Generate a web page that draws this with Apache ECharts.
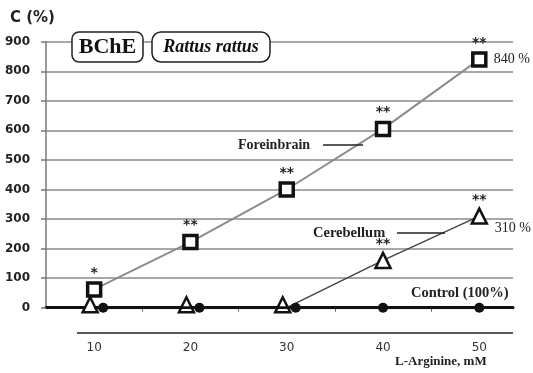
<!DOCTYPE html>
<html><head><meta charset="utf-8">
<script src="https://cdn.jsdelivr.net/npm/echarts@6/dist/echarts.min.js"></script>
<style>html,body{margin:0;padding:0;background:#fff}#c{width:533px;height:373px}</style>
</head><body><div id="c"></div>
<script>
const concentrations = [10, 20, 30, 40, 50];
const forebrain = [62, 222, 400, 605, 840];
const cerebellum = [0, 0, 0, 160, 310];
const control = [0, 0, 0, 0, 0];
const forebrainSig = ['*', '**', '**', '**', '**'];
const cerebellumSig = ['', '', '', '**', '**'];
const yTicks = [0, 100, 200, 300, 400, 500, 600, 700, 800, 900];
const xBoundaries = [15, 25, 35, 45];

const serif = '"Liberation Serif","DejaVu Serif",serif';
const sans = '"DejaVu Sans",Verdana,sans-serif';

const chart = echarts.init(document.getElementById('c'), null, {renderer: 'canvas'});

function pts(vals, sig, offsetFn) {
  return vals.map((v, i) => {
    const d = {value: [concentrations[i], v]};
    if (sig) d.label = {show: !!sig[i], formatter: sig[i]};
    if (offsetFn) { const o = offsetFn(i); if (o) d.symbolOffset = o; }
    return d;
  });
}

const last = concentrations.length - 1;
const pctLabel = (off) => ({
  symbol: 'circle', symbolSize: 1, itemStyle: {color: 'rgba(0,0,0,0)'},
  label: {show: true, position: 'right', offset: off, formatter: p => p.value + ' %',
    color: '#222', fontFamily: serif, fontSize: 14}
});

chart.setOption({
  animation: false,
  grid: {left: 46, right: 20, top: 41.7, bottom: 65.3},
  xAxis: {
    type: 'value', min: 5, max: 53.5,
    axisLine: {show: true, onZero: true, lineStyle: {color: '#111', width: 3}},
    axisTick: {show: true, customValues: xBoundaries, length: 4, lineStyle: {color: '#666', width: 1}},
    axisLabel: {customValues: concentrations, margin: 34, color: '#333', fontFamily: sans, fontSize: 12},
    splitLine: {show: false}
  },
  yAxis: {
    type: 'value', min: 0, max: 900, interval: 100,
    axisLine: {show: true, lineStyle: {color: '#777', width: 1.5}},
    axisTick: {show: true, length: 5, lineStyle: {color: '#777', width: 1.5}},
    axisLabel: {margin: 16, color: '#222', fontFamily: sans, fontWeight: 'bold', fontSize: 12,
      formatter: v => yTicks.includes(v) ? String(v) : ''},
    splitLine: {show: true, lineStyle: {color: '#8a8a8a', width: 1.5}}
  },
  series: [
    {
      name: 'Foreinbrain', type: 'line', z: 3,
      data: pts(forebrain, forebrainSig),
      symbol: 'rect', symbolSize: 13,
      itemStyle: {color: '#fff', borderColor: '#111', borderWidth: 3.5},
      lineStyle: {color: '#8c8c8c', width: 2},
      label: {position: 'top', distance: 1, color: '#222', fontFamily: sans, fontWeight: 'bold', fontSize: 14},
      markPoint: Object.assign(pctLabel([9, 0]), {
        data: [{coord: [concentrations[last], forebrain[last]], value: forebrain[last]}]
      })
    },
    {
      name: 'Cerebellum', type: 'line', z: 4,
      data: pts(cerebellum, cerebellumSig, i => cerebellum[i] === 0 && i < 3 ? [-4, -3] : null),
      symbol: 'triangle', symbolSize: 15,
      itemStyle: {color: '#fff', borderColor: '#111', borderWidth: 2.5},
      lineStyle: {color: '#444', width: 1.5},
      label: {position: 'top', distance: 0, color: '#222', fontFamily: sans, fontWeight: 'bold', fontSize: 14},
      markPoint: Object.assign(pctLabel([10, 12]), {
        data: [{coord: [concentrations[last], cerebellum[last]], value: cerebellum[last]}]
      })
    },
    {
      name: 'Control (100%)', type: 'line', z: 5,
      data: pts(control, null, i => (cerebellum[i] === control[i] && i < 3) ? [9, 0] : null),
      symbol: 'circle', symbolSize: 10,
      itemStyle: {color: '#111'},
      lineStyle: {color: '#111', width: 3}
    }
  ],
  graphic: [
    {type: 'text', left: 10, top: 11, style: {text: 'C (%)', font: 'bold 15px ' + sans, fill: '#222'}},
    {type: 'rect', shape: {x: 72, y: 32, width: 71, height: 30, r: 7}, style: {fill: '#fff', stroke: '#222', lineWidth: 1.5}, z: 10},
    {type: 'text', x: 107.5, y: 47, style: {text: 'BChE', font: 'bold 22px ' + serif, fill: '#111', align: 'center', verticalAlign: 'middle'}, z: 11},
    {type: 'rect', shape: {x: 152, y: 32, width: 118, height: 30, r: 9}, style: {fill: '#fff', stroke: '#222', lineWidth: 1.5}, z: 10},
    {type: 'text', x: 211, y: 47, style: {text: 'Rattus rattus', font: 'italic bold 18px ' + serif, fill: '#111', align: 'center', verticalAlign: 'middle'}, z: 11},
    {type: 'text', x: 238, y: 145, style: {text: 'Foreinbrain', font: 'bold 14px ' + serif, fill: '#222', verticalAlign: 'middle'}, z: 11},
    {type: 'line', shape: {x1: 323, y1: 145, x2: 363, y2: 145}, style: {stroke: '#222', lineWidth: 1.5}, z: 11},
    {type: 'text', x: 313, y: 233, style: {text: 'Cerebellum', font: 'bold 14.5px ' + serif, fill: '#222', verticalAlign: 'middle'}, z: 11},
    {type: 'line', shape: {x1: 397, y1: 233, x2: 445, y2: 233}, style: {stroke: '#222', lineWidth: 1.5}, z: 11},
    {type: 'text', x: 411, y: 293, style: {text: 'Control (100%)', font: 'bold 14.5px ' + serif, fill: '#222', verticalAlign: 'middle'}, z: 11},
    {type: 'line', shape: {x1: 77, y1: 333, x2: 513, y2: 333}, style: {stroke: '#222', lineWidth: 1.5}, z: 11},
    {type: 'text', x: 395, y: 362, style: {text: 'L-Arginine, mM', font: 'bold 13px ' + serif, fill: '#222', verticalAlign: 'middle'}, z: 11}
  ]
});
</script></body></html>
